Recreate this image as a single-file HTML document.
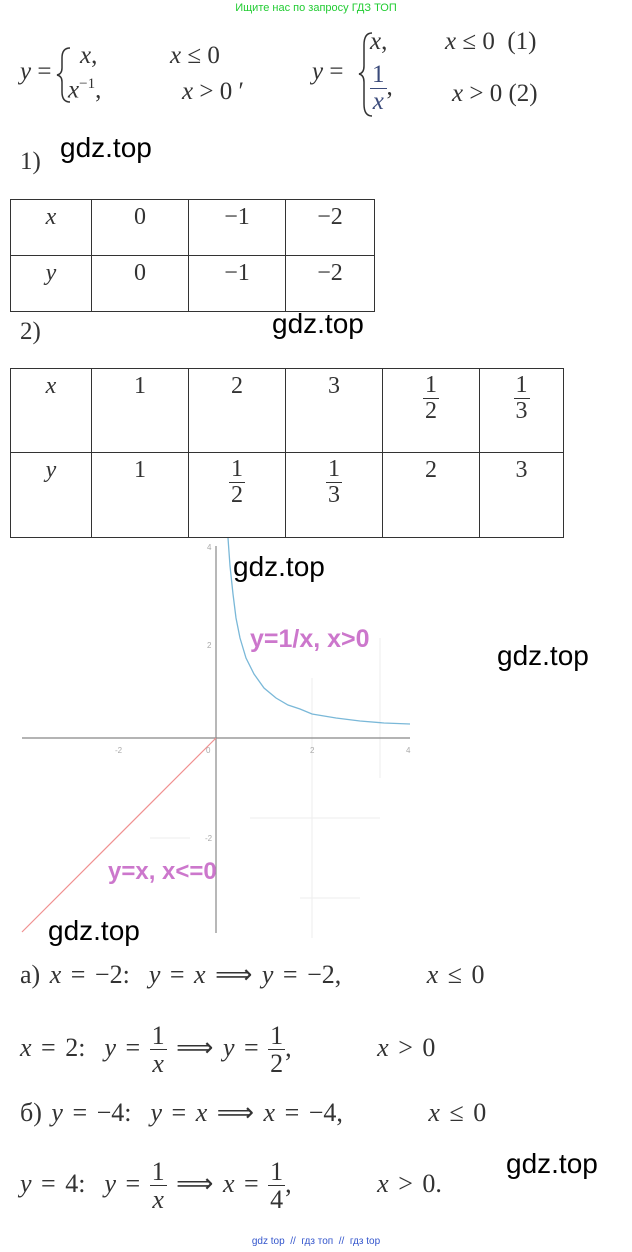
<!DOCTYPE html>
<html><head><meta charset="utf-8"><style>
body{margin:0;width:632px;height:1252px;background:#fff;position:relative;overflow:hidden;font-family:"Liberation Serif",serif;}
.a{position:absolute;white-space:nowrap;}
.m{font-family:"Liberation Serif",serif;font-size:25px;color:#333;}
.e{font-size:26px;word-spacing:3px;}
.i{font-style:italic;}
.w{font-family:"Liberation Sans",sans-serif;font-size:28px;color:#000;}
table{position:absolute;border-collapse:collapse;}
td{border:1.5px solid #333;font-size:24px;color:#333;text-align:center;vertical-align:top;padding-top:4px;}
.fr{display:inline-block;text-align:center;vertical-align:middle;line-height:1.05;word-spacing:0;}
.fr span{display:block;}
.fr .n{border-bottom:1.5px solid #333;padding:0 2px;}
</style></head><body>
<div class="a" style="left:0;width:632px;top:2px;text-align:center;font-family:'Liberation Sans',sans-serif;font-size:11px;color:#22cc33">Ищите нас по запросу ГДЗ ТОП</div>

<svg class="a" style="left:0;top:0" width="632" height="130">
<path d="M70 48 Q62 48 62 58 L62 68 Q62 74 57 75 Q62 76 62 82 L62 92 Q62 102 70 102" fill="none" stroke="#333" stroke-width="1.5"/>
<path d="M372 33 Q364 33 364 45 L364 66 Q364 73 359 74 Q364 75 364 82 L364 104 Q364 116 372 116" fill="none" stroke="#333" stroke-width="1.5"/>
</svg>
<div class="a m" style="left:20px;top:58px"><span class="i">y</span> =</div>
<div class="a m" style="left:80px;top:42px"><span class="i">x</span>,</div>
<div class="a m" style="left:68px;top:76px"><span class="i">x</span><sup style="font-size:15px">−1</sup>,</div>
<div class="a m" style="left:170px;top:42px"><span class="i">x</span> ≤ 0</div>
<div class="a m" style="left:182px;top:78px"><span class="i">x</span> &gt; 0 ′</div>

<div class="a m" style="left:312px;top:58px"><span class="i">y</span> =</div>
<div class="a m" style="left:370px;top:28px"><span class="i">x</span>,</div>
<div class="a m" style="left:370px;top:62px;color:#3a4a7a;line-height:1"><span class="fr"><span class="n" style="border-color:#3a4a7a">1</span><span class="i">x</span></span><span style="color:#333">,</span></div>
<div class="a m" style="left:445px;top:28px"><span class="i">x</span> ≤ 0 &nbsp;(1)</div>
<div class="a m" style="left:452px;top:80px"><span class="i">x</span> &gt; 0 (2)</div>

<div class="a m" style="left:20px;top:148px">1)</div>
<div class="a w" style="left:60px;top:132px">gdz.top</div>

<table style="left:10px;top:199px;width:365px;height:113px">
<tr><td style="width:78px" class="i">x</td><td style="width:94px">0</td><td style="width:94px">−1</td><td>−2</td></tr>
<tr><td class="i">y</td><td>0</td><td>−1</td><td>−2</td></tr></table>

<div class="a m" style="left:20px;top:318px">2)</div>
<div class="a w" style="left:272px;top:308px">gdz.top</div>

<table style="left:10px;top:368px;width:554px;height:170px">
<tr style="height:84px"><td style="width:78px" class="i">x</td><td style="width:94px">1</td><td style="width:94px">2</td><td style="width:94px">3</td><td style="width:94px"><span class="fr"><span class="n">1</span><span>2</span></span></td><td><span class="fr"><span class="n">1</span><span>3</span></span></td></tr>
<tr><td class="i">y</td><td>1</td><td><span class="fr"><span class="n">1</span><span>2</span></span></td><td><span class="fr"><span class="n">1</span><span>3</span></span></td><td>2</td><td>3</td></tr></table>

<svg class="a" style="left:0;top:538px" width="430" height="400">
<g stroke="#eee" stroke-width="1">
<line x1="312" y1="140" x2="312" y2="400"/><line x1="250" y1="280" x2="380" y2="280"/><line x1="300" y1="360" x2="360" y2="360"/><line x1="150" y1="300" x2="190" y2="300"/><line x1="380" y1="100" x2="380" y2="240"/>
</g>
<line x1="22" y1="200" x2="410" y2="200" stroke="#888" stroke-width="1.2"/>
<line x1="216" y1="8" x2="216" y2="395" stroke="#888" stroke-width="1.2"/>
<g font-family="Liberation Sans" font-size="8" fill="#aaa">
<text x="115" y="215">-2</text><text x="206" y="215">0</text><text x="310" y="215">2</text><text x="406" y="215">4</text>
<text x="207" y="12">4</text><text x="207" y="110">2</text><text x="205" y="303">-2</text>
</g>
<line x1="216" y1="200" x2="22" y2="394" stroke="#f09090" stroke-width="1.2"/>
<polyline fill="none" stroke="#7ab8d8" stroke-width="1.3" points="228,0 230,28 233,56 236,80 240,100 246,120 254,136 264,150 276,160 288,167 300,171 312,176 336,180 360,183 384,185 410,186"/>
<text x="250" y="109" font-family="Liberation Sans" font-weight="bold" font-size="25" fill="#cc77cc">y=1/x, x&gt;0</text>
<text x="108" y="341" font-family="Liberation Sans" font-weight="bold" font-size="24" fill="#cc77cc">y=x, x&lt;=0</text>
</svg>
<div class="a w" style="left:233px;top:551px">gdz.top</div>
<div class="a w" style="left:497px;top:640px">gdz.top</div>
<div class="a w" style="left:48px;top:915px">gdz.top</div>

<div class="a m e" style="left:20px;top:960px">а) <span class="i">x</span> = −2:&nbsp; <span class="i">y</span> = <span class="i">x</span> ⟹ <span class="i">y</span> = −2, &nbsp; &nbsp; &nbsp; &nbsp; <span class="i">x</span> ≤ 0</div>
<div class="a m e" style="left:20px;top:1022px"><span class="i">x</span> = 2:&nbsp; <span class="i">y</span> = <span class="fr"><span class="n">1</span><span class="i">x</span></span> ⟹ <span class="i">y</span> = <span class="fr"><span class="n">1</span><span>2</span></span>, &nbsp; &nbsp; &nbsp; &nbsp; <span class="i">x</span> &gt; 0</div>
<div class="a m e" style="left:20px;top:1098px">б) <span class="i">y</span> = −4:&nbsp; <span class="i">y</span> = <span class="i">x</span> ⟹ <span class="i">x</span> = −4, &nbsp; &nbsp; &nbsp; &nbsp; <span class="i">x</span> ≤ 0</div>
<div class="a m e" style="left:20px;top:1158px"><span class="i">y</span> = 4:&nbsp; <span class="i">y</span> = <span class="fr"><span class="n">1</span><span class="i">x</span></span> ⟹ <span class="i">x</span> = <span class="fr"><span class="n">1</span><span>4</span></span>, &nbsp; &nbsp; &nbsp; &nbsp; <span class="i">x</span> &gt; 0.</div>
<div class="a w" style="left:506px;top:1148px">gdz.top</div>
<div class="a" style="left:0;width:632px;top:1236px;text-align:center;font-family:'Liberation Sans',sans-serif;font-size:10px;color:#3355cc">gdz top &nbsp;// &nbsp;гдз топ &nbsp;// &nbsp;гдз top</div>
</body></html>
